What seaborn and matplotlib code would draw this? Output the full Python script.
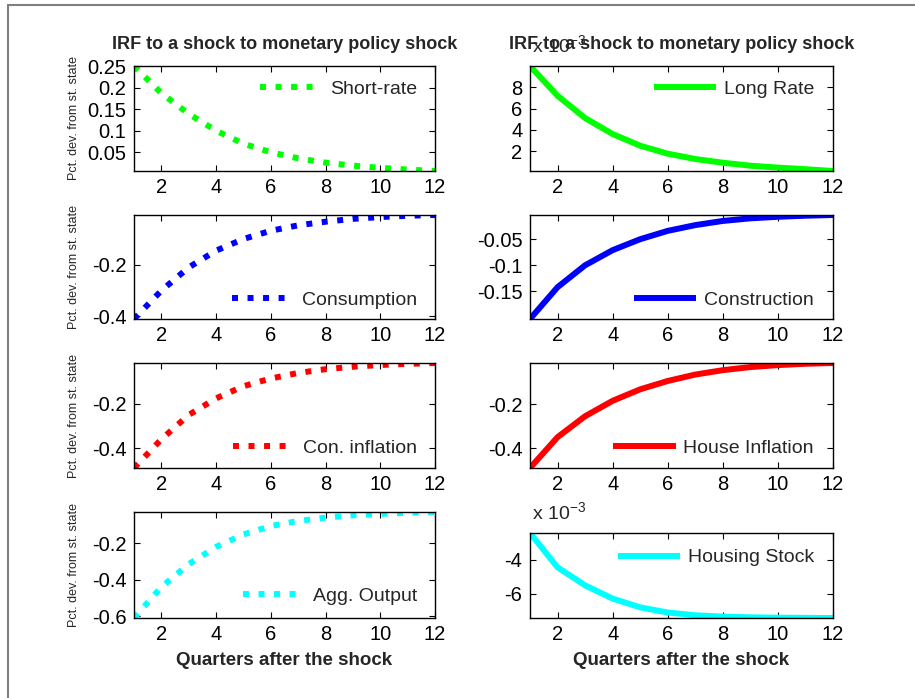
import matplotlib
matplotlib.use("Agg")
import matplotlib.pyplot as plt
from matplotlib.lines import Line2D
from matplotlib.ticker import FormatStrFormatter
import seaborn as sns

# quarters after the shock
quarters = list(range(1, 13))

# responses (pct. dev. from steady state)
short_rate = [0.250, 0.187, 0.139, 0.100, 0.070, 0.050, 0.036, 0.026, 0.019, 0.014, 0.010, 0.0066]
long_rate = [0.0100, 0.0072, 0.0051, 0.0036, 0.0025, 0.00175, 0.00125, 0.0009, 0.00062, 0.00044, 0.00029, 0.00012]
consumption = [-0.41, -0.30, -0.21, -0.145, -0.100, -0.068, -0.047, -0.033, -0.022, -0.015, -0.010, -0.007]
construction = [-0.203, -0.142, -0.100, -0.071, -0.050, -0.034, -0.023, -0.015, -0.010, -0.007, -0.005, -0.0036]
con_inflation = [-0.49, -0.36, -0.25, -0.175, -0.12, -0.085, -0.06, -0.043, -0.032, -0.024, -0.019, -0.015]
house_inflation = [-0.49, -0.35, -0.255, -0.185, -0.133, -0.095, -0.066, -0.046, -0.032, -0.023, -0.017, -0.0135]
agg_output = [-0.61, -0.44, -0.315, -0.22, -0.152, -0.106, -0.078, -0.060, -0.047, -0.039, -0.033, -0.029]
housing_stock = [-0.00245, -0.00445, -0.0055, -0.00627, -0.00678, -0.00708, -0.00724, -0.00732, -0.00736, -0.00738, -0.00739, -0.0074]

# tick values per panel
x_ticks = [2, 4, 6, 8, 10, 12]
short_ticks = [0.05, 0.1, 0.15, 0.2, 0.25]
long_ticks = [2, 4, 6, 8]
cons_ticks = [-0.4, -0.2]
constr_ticks = [-0.15, -0.1, -0.05]
infl_ticks = [-0.4, -0.2]
output_ticks = [-0.6, -0.4, -0.2]
stock_ticks = [-6, -4]

TITLE = "IRF to a shock to monetary policy shock"
XLABEL = "Quarters after the shock"
YLABEL = "Pct. dev. from st. state"

W, H = 915, 698

sns.set_style("ticks")
plt.rcParams["font.family"] = ["Liberation Sans", "DejaVu Sans"]
plt.rcParams["axes.unicode_minus"] = False
plt.rcParams["mathtext.default"] = "regular"

fig = plt.figure(figsize=(W / 100, H / 100), dpi=100)
fig.patch.set_facecolor("white")


def px_axes(left, top, right, bottom):
    return fig.add_axes([left / W, 1 - bottom / H, (right - left) / W, (bottom - top) / H])


def panel(ax, values, color, label, dotted, yticks, scale=1.0, loc=(0.94, 0.5)):
    vals = [v / scale for v in values]
    sns.lineplot(x=quarters, y=vals, ax=ax, color=color, linewidth=4.3,
                 label=label, legend=False)
    line = ax.get_lines()[-1]
    if dotted:
        line.set_linestyle((0, (1, 1.6)))
        line.set_dash_capstyle("butt")
    else:
        line.set_solid_capstyle("butt")
    ax.set_xlim(1, 12)
    ax.set_ylim(min(vals), max(vals))
    ax.set_xticks(x_ticks)
    ax.set_yticks(yticks)
    ax.yaxis.set_major_formatter(FormatStrFormatter("%g"))
    ax.tick_params(direction="in", length=4, width=0.8, labelsize=14.5,
                   top=True, right=True, colors="black")
    ax.tick_params(axis="y", pad=5.5)
    ax.tick_params(axis="x", pad=5)
    for s in ax.spines.values():
        s.set_linewidth(1.0)
        s.set_color("black")
    ax.set_xlabel("")
    ax.set_ylabel("")
    ax.legend(loc="center right", bbox_to_anchor=loc, frameon=False,
              fontsize=14, handlelength=3.2, handletextpad=0.4,
              borderaxespad=0, borderpad=0)


ax1 = px_axes(134, 66, 435, 171)
ax2 = px_axes(530, 66, 833, 171)
ax3 = px_axes(134, 215, 435, 319)
ax4 = px_axes(530, 215, 833, 319)
ax5 = px_axes(134, 363, 435, 468)
ax6 = px_axes(530, 363, 833, 468)
ax7 = px_axes(134, 512, 435, 618)
ax8 = px_axes(530, 533, 833, 618)

panel(ax1, short_rate, "#00ff00", "Short-rate", True, short_ticks, loc=(0.94, 0.78))
panel(ax2, long_rate, "#00ff00", "Long Rate", False, long_ticks, scale=1e-3, loc=(0.937, 0.78))
panel(ax3, consumption, "#0000ff", "Consumption", True, cons_ticks, loc=(0.94, 0.18))
panel(ax4, construction, "#0000ff", "Construction", False, constr_ticks, loc=(0.937, 0.18))
panel(ax5, con_inflation, "#ff0000", "Con. inflation", True, infl_ticks, loc=(0.94, 0.19))
panel(ax6, house_inflation, "#ff0000", "House Inflation", False, infl_ticks, loc=(0.937, 0.19))
panel(ax7, agg_output, "#00ffff", "Agg. Output", True, output_ticks, loc=(0.94, 0.21))
panel(ax8, housing_stock, "#00ffff", "Housing Stock", False, stock_ticks, scale=1e-3, loc=(0.937, 0.71))

for ax in (ax1, ax2):
    ax.set_title(TITLE, fontsize=13, fontweight="bold", pad=12.5)

for ax in (ax1, ax3, ax5, ax7):
    ax.set_ylabel(YLABEL, fontsize=9)
    ax.yaxis.set_label_coords(-0.179, 0.5)

ax7.set_xlabel(XLABEL, fontsize=13.5, fontweight="bold")
ax7.xaxis.set_label_coords(0.5, -0.32)
ax8.set_xlabel(XLABEL, fontsize=13.5, fontweight="bold")
ax8.xaxis.set_label_coords(0.5, -0.40)

# exponent labels like the MATLAB axes
for ax in (ax2, ax8):
    ax.text(0.005, 1.0 + 10 / ax.bbox.height, "x 10$^{-3}$", transform=ax.transAxes,
            fontsize=14, ha="left", va="bottom")

# screenshot frame on the top and left edges
fig.add_artist(Line2D([8 / W, 1], [1 - 5 / H, 1 - 5 / H], transform=fig.transFigure,
                      color="#808080", lw=1.5))
fig.add_artist(Line2D([8 / W, 8 / W], [0, 1 - 5 / H], transform=fig.transFigure,
                      color="#808080", lw=1.5))

fig.savefig("out.png", dpi=100)
